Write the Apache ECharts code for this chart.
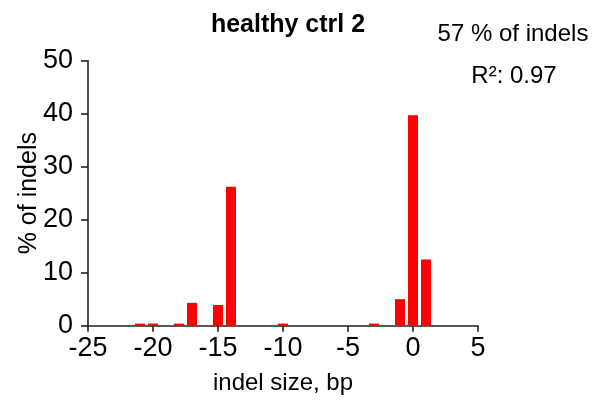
<!DOCTYPE html>
<html>
<head>
<meta charset="utf-8">
<script src="https://cdn.jsdelivr.net/npm/echarts@6/dist/echarts.min.js"></script>
<style>
html,body{margin:0;padding:0;background:#fff;}
#chart{width:603px;height:410px;}
</style>
</head>
<body>
<div id="chart"></div>
<script>
var indelSizes = [-21, -20, -18, -17, -15, -14, -10, -3, -1, 0, 1];
var percentIndels = [0.4, 0.4, 0.4, 4.3, 3.9, 26.2, 0.4, 0.4, 5.0, 39.7, 12.5];
var titleText = 'healthy ctrl 2';
var noteLines = ['57 % of indels', 'R\u00b2: 0.97'];
var xTicks = [-25, -20, -15, -10, -5, 0, 5];
var yTicks = [0, 10, 20, 30, 40, 50];

var font = '"Liberation Sans", Arial, sans-serif';
var chart = echarts.init(document.getElementById('chart'), null, {renderer: 'canvas'});
var axisColor = '#222';
chart.setOption({
  animation: false,
  backgroundColor: '#fff',
  title: {
    text: titleText, left: 283, textAlign: 'center', top: 8,
    textStyle: {fontFamily: font, fontSize: 25, fontWeight: 'bold', color: '#000'}
  },
  graphic: [
    {type: 'text', x: 513, y: 34, style: {text: noteLines[0], font: '24px ' + font, fill: '#000', align: 'center', verticalAlign: 'middle'}},
    {type: 'text', x: 514, y: 76, style: {text: noteLines[1], font: '24px ' + font, fill: '#000', align: 'center', verticalAlign: 'middle'}}
  ],
  grid: {left: 88, right: 125, top: 60.7, bottom: 84.3, containLabel: false},
  xAxis: {
    type: 'value', min: xTicks[0], max: xTicks[xTicks.length - 1], interval: 5,
    name: 'indel size, bp', nameLocation: 'middle', nameGap: 46, nameMoveOverlap: false,
    nameTextStyle: {fontFamily: font, fontSize: 24, color: '#000'},
    axisLine: {show: true, onZero: false, lineStyle: {color: axisColor, width: 1.6}},
    axisTick: {show: true, inside: false, length: 6, lineStyle: {color: axisColor, width: 1.6}},
    axisLabel: {fontFamily: font, fontSize: 27, color: '#000', margin: 9},
    splitLine: {show: false}
  },
  yAxis: {
    type: 'value', min: yTicks[0], max: yTicks[yTicks.length - 1], interval: 10,
    name: '% of indels', nameLocation: 'middle', nameGap: 46, nameMoveOverlap: false,
    nameTextStyle: {fontFamily: font, fontSize: 25, color: '#000'},
    axisLine: {show: true, onZero: false, lineStyle: {color: axisColor, width: 1.6}},
    axisTick: {show: true, inside: false, length: 7, lineStyle: {color: axisColor, width: 1.6}},
    axisLabel: {fontFamily: font, fontSize: 27, color: '#000', margin: 15},
    splitLine: {show: false}
  },
  series: [{
    type: 'bar',
    data: indelSizes.map(function (x, i) { return [x, percentIndels[i]]; }),
    barWidth: 10,
    itemStyle: {color: '#ff0000'}
  }]
});
</script>
</body>
</html>
